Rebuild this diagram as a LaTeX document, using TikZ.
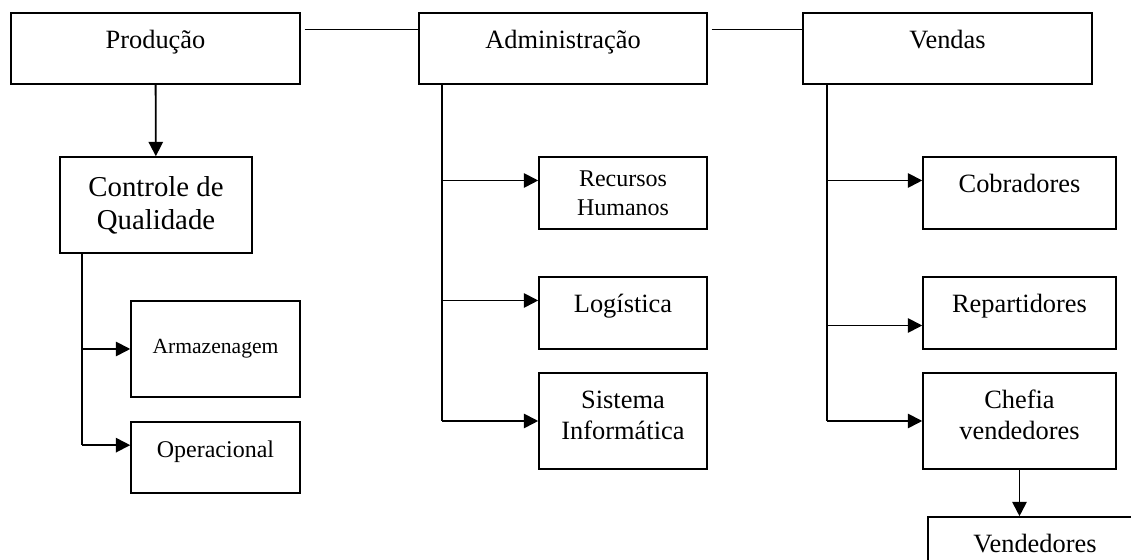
\documentclass[tikz,border=0pt]{standalone}
\usepackage{fontspec}
\setmainfont{Liberation Serif}
\usetikzlibrary{arrows.meta, positioning, calc}
\tikzset{
  % Box styles
  unitbox/.style={rectangle, draw=black, line width=0.65pt, align=center, inner sep=2pt, font=\fontsize{11}{13}\selectfont},
  onelinebox/.style={unitbox, text height=7pt, text depth=7pt},
  % Arrow styles
  arrow/.style={-{Triangle[length=6pt, width=6pt]}, line width=0.75pt},
  trunk/.style={line width=0.75pt},
  link/.style={line width=0.5pt, shorten <=1.6pt}
}

\begin{document}
\begin{tikzpicture}[x=0.416667pt, y=-0.416667pt]
  \useasboundingbox (0,0) rectangle (1131,560);
  \clip (0,0) rectangle (1131,560);

  % Top level
  \node[onelinebox, minimum width=120.4pt, minimum height=29.6pt] (prod) at (155.5,48.5) {Produção};
  \node[onelinebox, minimum width=120pt, minimum height=29.6pt] (adm) at (563,48.5) {Administração};
  \node[onelinebox, minimum width=120.4pt, minimum height=29.6pt] (vend) at (947.5,48.5) {Vendas};

  % Produção branch
  \node[unitbox, font=\fontsize{12}{13.8}\selectfont, minimum width=80pt, minimum height=40pt] (cq) at (156,205) {Controle de\\Qualidade};
  \node[unitbox, font=\fontsize{9}{11}\selectfont, minimum width=70.4pt, minimum height=40pt] (arm) at (215.5,349) {Armazenagem};
  \node[onelinebox, font=\fontsize{10}{12}\selectfont, minimum width=70.4pt, minimum height=29.6pt] (op) at (215.5,457.5) {Operacional};

  % Administração branch
  \node[unitbox, font=\fontsize{10}{12}\selectfont, minimum width=70pt, minimum height=30pt] (rh) at (623,193) {Recursos\\Humanos};
  \node[onelinebox, minimum width=70pt, minimum height=30pt] (log) at (623,313) {Logística};
  \node[unitbox, text depth=5pt, minimum width=70pt, minimum height=40pt] (si) at (623,421) {Sistema\\Informática};

  % Vendas branch
  \node[onelinebox, minimum width=80.4pt, minimum height=30pt] (cob) at (1019.5,193) {Cobradores};
  \node[onelinebox, minimum width=80.4pt, minimum height=30pt] (rep) at (1019.5,313) {Repartidores};
  \node[unitbox, text depth=5pt, minimum width=80.4pt, minimum height=40pt] (chf) at (1019.5,421) {Chefia\\vendedores};
  \node[onelinebox, minimum width=89.2pt, minimum height=30pt] (vdr) at (1035,553) {Vendedores};

  % Links between top boxes
  \coordinate (l1) at ($(prod.north east)!0.24!(prod.south east)$);
  \coordinate (l2) at ($(adm.north east)!0.24!(adm.south east)$);
  \draw[link] (l1) -- (l1 -| adm.west);
  \draw[link] (l2) -- (l2 -| vend.west);

  % Produção connectors
  \draw[arrow] (prod) -- (cq);
  \coordinate (cqt) at ($(cq.south west)+(23,0)$);
  \coordinate (opin) at ($(op.north west)!0.33!(op.south west)$);
  \draw[trunk] (cqt) -- (cqt |- opin);
  \draw[arrow] (cqt |- arm.west) -- (arm.west);
  \draw[arrow] (cqt |- opin) -- (opin);

  % Administração connectors
  \coordinate (admt) at ($(adm.south west)+(24,0)$);
  \coordinate (rhin) at ($(rh.north west)!0.33!(rh.south west)$);
  \coordinate (login) at ($(log.north west)!0.33!(log.south west)$);
  \draw[trunk] (admt) -- (admt |- si.west);
  \draw[arrow] (admt |- rhin) -- (rhin);
  \draw[arrow] (admt |- login) -- (login);
  \draw[arrow] (admt |- si.west) -- (si.west);

  % Vendas connectors
  \coordinate (vendt) at ($(vend.south west)+(25,0)$);
  \coordinate (cobin) at ($(cob.north west)!0.33!(cob.south west)$);
  \coordinate (repin) at ($(rep.north west)!0.67!(rep.south west)$);
  \draw[trunk] (vendt) -- (vendt |- chf.west);
  \draw[arrow] (vendt |- cobin) -- (cobin);
  \draw[arrow] (vendt |- repin) -- (repin);
  \draw[arrow] (vendt |- chf.west) -- (chf.west);
  \draw[arrow] (chf.south) -- (chf.south |- vdr.north);
\end{tikzpicture}
\end{document}
